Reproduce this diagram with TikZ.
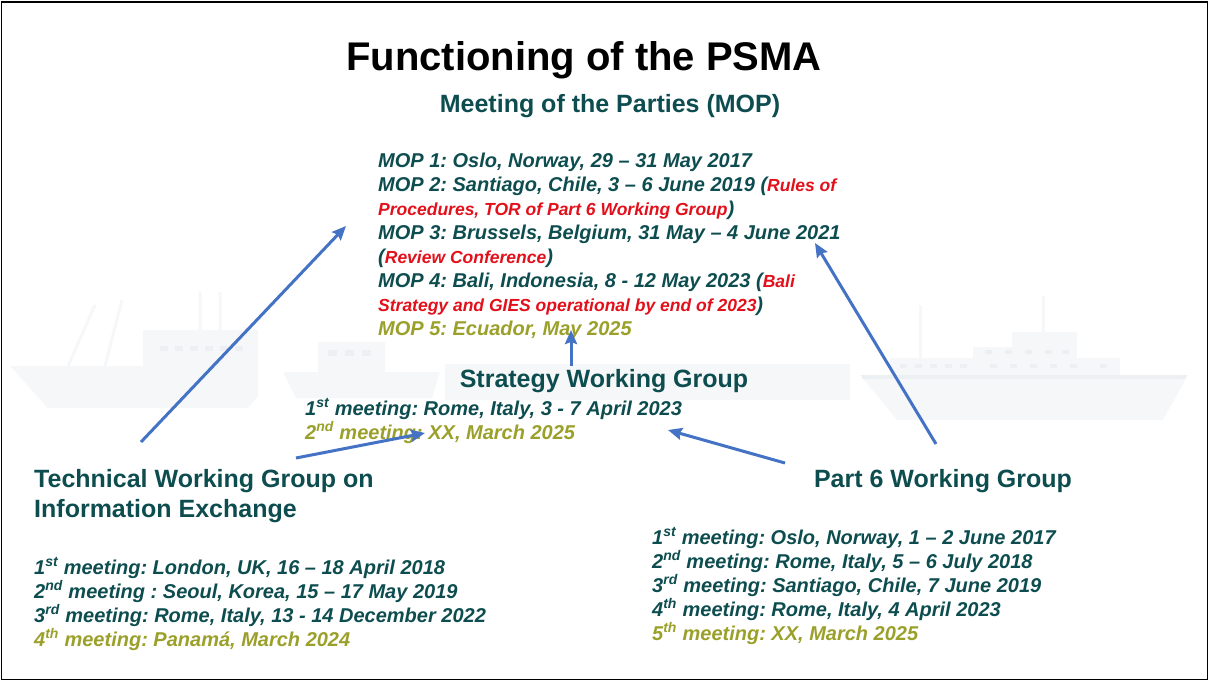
\documentclass[tikz,border=0pt]{standalone}
\usepackage{fontspec}
\setmainfont{Liberation Sans}
\usetikzlibrary{arrows.meta}
\frenchspacing

\definecolor{psmateal}{RGB}{14,77,79}
\definecolor{psmared}{RGB}{226,16,26}
\definecolor{psmaolive}{RGB}{154,160,42}
\definecolor{linkblue}{RGB}{68,114,196}
\definecolor{shiphull}{RGB}{245,247,248}
\definecolor{shipdeck}{RGB}{236,240,243}

\newcommand{\mopnote}[1]{{\color{psmared}\fontsize{17.5}{24}\selectfont #1}}
\newcommand{\upcoming}[1]{{\color{psmaolive}#1}}

\tikzset{
  heading/.style={font=\bfseries\fontsize{25}{30}\selectfont, text=psmateal, inner sep=0pt, align=left},
  meetings/.style={font=\bfseries\itshape\fontsize{20}{24}\selectfont, text=psmateal, inner sep=0pt, align=left, anchor=north west},
  link/.style={draw=linkblue, line width=3pt, -{Stealth[length=14pt,width=12pt,inset=2pt]}},
}

\begin{document}
\begin{tikzpicture}[x=1pt,y=-1pt]
\useasboundingbox (0,0) rectangle (1209,681);

% faint ships behind the text
\fill[shiphull] (10,366) -- (258,366) -- (258,396) -- (248,408) -- (48,408) -- cycle;
\fill[shiphull] (143,330) rectangle (258,366);
\draw[shiphull, line width=3pt] (68,366) -- (95,305) (105,366) -- (122,300) (200,330) -- (200,292) (220,330) -- (220,292);
\foreach \x in {160,175,190,205,220,235}
  \fill[shipdeck] (\x,346) rectangle +(8,5);
\fill[shiphull] (283,372) -- (440,372) -- (432,398) -- (296,398) -- cycle;
\fill[shiphull] (318,342) rectangle (385,372);
\foreach \x in {328,345,362}
  \fill[shipdeck] (\x,350) rectangle +(9,6);
\fill[shiphull] (445,364) rectangle (850,400);
\fill[shiphull] (860,375) -- (1188,375) -- (1163,420) -- (897,420) -- cycle;
\fill[shipdeck] (862,375) rectangle (1186,379);
\fill[shiphull] (890,358) rectangle (1120,375);
\fill[shiphull] (973,347) rectangle (1077,358);
\fill[shiphull] (1012,332) rectangle (1077,347);
\draw[shiphull, line width=3pt] (1043,332) -- (1043,296) (920,358) -- (920,305);
\foreach \x in {900,915,930,945,960,990,1010,1030,1050,1070,1100}
  \fill[shipdeck] (\x,364) rectangle +(7,4);
\foreach \x in {985,1005,1025,1045,1062}
  \fill[shipdeck] (\x,350) rectangle +(7,4);

\draw[line width=1.5pt] (1.5,2) rectangle (1207.5,679.5);

\node[font=\bfseries\fontsize{40}{44}\selectfont, anchor=base] (title) at (584,70) {Functioning of the PSMA};

\node[heading, anchor=base] (mop-head) at (610,112) {Meeting of the Parties (MOP)};
\node[meetings] (mop) at (378,152.5) {MOP 1: Oslo, Norway, 29 – 31 May 2017\\
  MOP 2: Santiago, Chile, 3 – 6 June 2019 (\mopnote{Rules of}\\
  \mopnote{Procedures, TOR of Part 6 Working Group})\\
  MOP 3: Brussels, Belgium, 31 May – 4 June 2021\\
  (\mopnote{Review Conference})\\
  MOP 4: Bali, Indonesia, 8 - 12 May 2023 (\mopnote{Bali}\\
  \mopnote{Strategy and GIES operational by end of 2023})\\
  \upcoming{MOP 5: Ecuador, May 2025}};

\node[heading, anchor=base] (swg-head) at (604,387) {Strategy Working Group};
\node[meetings] (swg) at (305,398.5) {1\textsuperscript{st} meeting: Rome, Italy, 3 - 7 April 2023\\
  \upcoming{2\textsuperscript{nd} meeting: XX, March 2025}};

\node[heading, anchor=north west] (twg-head) at (34,469) {Technical Working Group on\\ Information Exchange};
\node[meetings] (twg) at (34,557.5) {1\textsuperscript{st} meeting: London, UK, 16 – 18 April 2018\\
  2\textsuperscript{nd} meeting : Seoul, Korea, 15 – 17 May 2019\\
  3\textsuperscript{rd} meeting: Rome, Italy, 13 - 14 December 2022\\
  \upcoming{4\textsuperscript{th} meeting: Panamá, March 2024}};

\node[heading, anchor=base] (p6-head) at (943,487) {Part 6 Working Group};
\node[meetings] (p6) at (652,527.5) {1\textsuperscript{st} meeting: Oslo, Norway, 1 – 2 June 2017\\
  2\textsuperscript{nd} meeting: Rome, Italy, 5 – 6 July 2018\\
  3\textsuperscript{rd} meeting: Santiago, Chile, 7 June 2019\\
  4\textsuperscript{th} meeting: Rome, Italy, 4 April 2023\\
  \upcoming{5\textsuperscript{th} meeting: XX, March 2025}};

\coordinate (twg-top) at (141,442);
\coordinate (mop-left) at (346,226);
\coordinate (p6-top) at (936,444);
\coordinate (mop-right) at (815,243);
\coordinate (swg-top) at (571,366);
\coordinate (mop-low) at (571,330);
\coordinate (twg-side) at (296,458);
\coordinate (swg-left) at (425,433);
\coordinate (p6-side) at (785,463);
\coordinate (swg-right) at (668,430);

\draw[link] (twg-top) -- (mop-left);
\draw[link] (p6-top) -- (mop-right);
\draw[link] (swg-top) -- (mop-low);
\draw[link] (twg-side) -- (swg-left);
\draw[link] (p6-side) -- (swg-right);
\end{tikzpicture}
\end{document}
